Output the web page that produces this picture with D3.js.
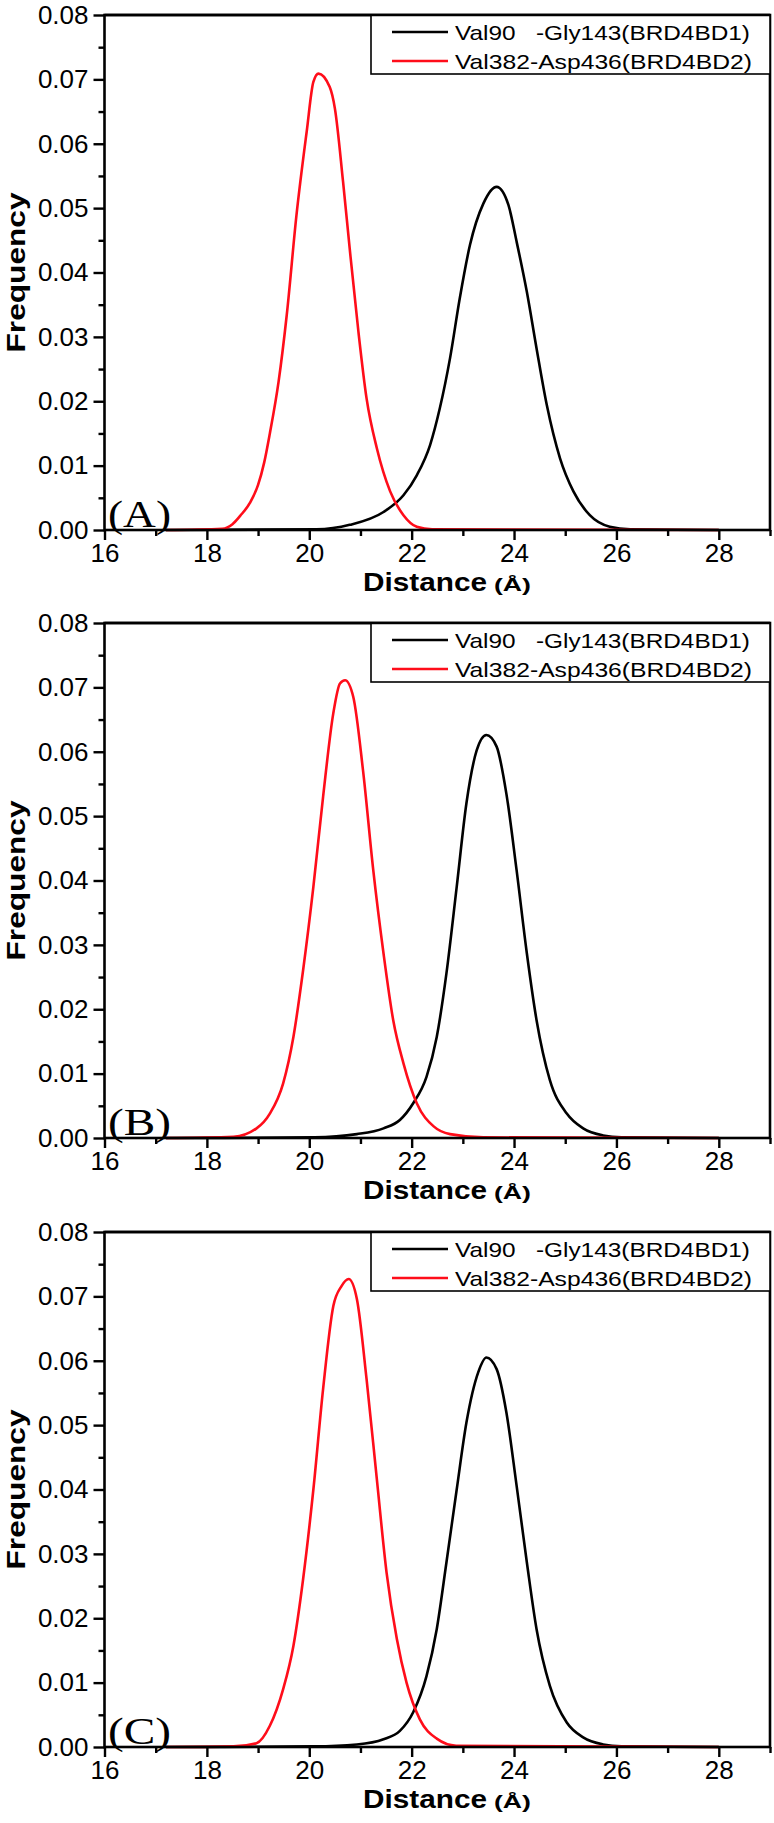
<!DOCTYPE html>
<html>
<head>
<meta charset="utf-8">
<script src="https://cdn.jsdelivr.net/npm/d3@7"></script>
<style>
  body { margin: 0; background: #fff; }
  svg { display: block; }
</style>
</head>
<body>
<div id="chart"></div>
<script>
// distance (Å) and frequency
const distA_bd1 = [17.2, 20.14, 20.79, 21.45, 21.84, 22.10, 22.36, 22.55, 22.75, 22.94, 23.14, 23.40, 23.66, 23.89, 24.05, 24.25, 24.44, 24.64, 24.90, 25.16, 25.48, 25.87, 26.27, 28];
const freqA_bd1 = [0, 0.0001, 0.0008, 0.0028, 0.0054, 0.0085, 0.0132, 0.0189, 0.0267, 0.036, 0.0443, 0.0507, 0.0533, 0.0505, 0.0448, 0.037, 0.0282, 0.0194, 0.0111, 0.006, 0.0023, 0.0005, 0.0001, 0];
const distA_bd2 = [17.2, 18.3, 18.5, 18.65, 18.84, 19.0, 19.12, 19.23, 19.40, 19.56, 19.75, 19.95, 20.08, 20.18, 20.40, 20.50, 20.66, 20.79, 20.96, 21.12, 21.32, 21.58, 21.84, 22.10, 22.4, 28];
const freqA_bd2 = [0, 0.0002, 0.0009, 0.0022, 0.0042, 0.007, 0.0105, 0.015, 0.023, 0.0334, 0.0489, 0.0619, 0.0696, 0.0709, 0.0688, 0.0655, 0.0541, 0.0437, 0.0308, 0.0204, 0.0127, 0.0060, 0.0023, 0.0005, 0.0001, 0];

const distB_bd1 = [17.2, 20.1, 20.93, 21.45, 21.77, 22.03, 22.29, 22.49, 22.68, 22.88, 23.07, 23.27, 23.46, 23.66, 23.85, 24.05, 24.25, 24.44, 24.70, 25.03, 25.35, 25.74, 26.1, 28];
const freqB_bd1 = [0, 0.0001, 0.0006, 0.0015, 0.0028, 0.0054, 0.0095, 0.0157, 0.0256, 0.039, 0.052, 0.0602, 0.0626, 0.0608, 0.0535, 0.0416, 0.0287, 0.0183, 0.009, 0.0038, 0.0015, 0.0004, 0.0001, 0];
const distB_bd2 = [17.2, 18.52, 18.97, 19.23, 19.49, 19.69, 19.88, 20.08, 20.27, 20.47, 20.60, 20.70, 20.86, 21.05, 21.25, 21.45, 21.64, 21.84, 22.10, 22.43, 22.75, 23.4, 28];
const freqB_bd2 = [0, 0.0002, 0.0015, 0.0038, 0.0085, 0.0157, 0.0261, 0.039, 0.053, 0.066, 0.0706, 0.0711, 0.0685, 0.0571, 0.0416, 0.0287, 0.0183, 0.0116, 0.0054, 0.0018, 0.0006, 0.0001, 0];

const distC_bd1 = [17.2, 20.1, 20.93, 21.45, 21.77, 22.03, 22.29, 22.49, 22.68, 22.88, 23.07, 23.30, 23.46, 23.66, 23.85, 24.05, 24.25, 24.44, 24.70, 25.03, 25.35, 25.74, 26.1, 28];
const freqC_bd1 = [0, 0.0001, 0.0004, 0.0012, 0.0025, 0.0054, 0.011, 0.0183, 0.0287, 0.040, 0.0504, 0.0582, 0.0605, 0.0587, 0.052, 0.0406, 0.0287, 0.0183, 0.0095, 0.0038, 0.0015, 0.0004, 0.0001, 0];
const distC_bd2 = [17.2, 18.52, 18.97, 19.23, 19.49, 19.69, 19.88, 20.08, 20.27, 20.47, 20.63, 20.77, 20.93, 21.12, 21.32, 21.51, 21.71, 21.90, 22.16, 22.49, 22.87, 28];
const freqC_bd2 = [0, 0.0001, 0.0006, 0.0033, 0.009, 0.0157, 0.0261, 0.040, 0.0556, 0.0685, 0.0716, 0.0727, 0.0696, 0.0571, 0.0416, 0.0271, 0.0168, 0.010, 0.0043, 0.0013, 0.0002, 0];

const seriesNames = ["Val90   -Gly143(BRD4BD1)", "Val382-Asp436(BRD4BD2)"];
const seriesColors = ["#000000", "#ff0d1a"];
const panelLabels = ["(A)", "(B)", "(C)"];
const xMajorTicks = [16, 18, 20, 22, 24, 26, 28];
const xMinorTicks = [17, 19, 21, 23, 25, 27, 29];
const yMajorTicks = [0, 0.01, 0.02, 0.03, 0.04, 0.05, 0.06, 0.07, 0.08];
const yMinorTicks = [0.005, 0.015, 0.025, 0.035, 0.045, 0.055, 0.065, 0.075];

const panels = [
    {label: panelLabels[0], top: 15,   series: [[distA_bd1, freqA_bd1], [distA_bd2, freqA_bd2]]},
    {label: panelLabels[1], top: 623,  series: [[distB_bd1, freqB_bd1], [distB_bd2, freqB_bd2]]},
    {label: panelLabels[2], top: 1232, series: [[distC_bd1, freqC_bd1], [distC_bd2, freqC_bd2]]}
];

const W = 774, H = 1823;
const left = 104.5, right = 770, plotH = 515;
const sans = "'Liberation Sans', Arial, sans-serif";

const svg = d3.select("#chart").append("svg")
    .attr("width", W)
    .attr("height", H);

svg.append("rect").attr("width", W).attr("height", H).attr("fill", "#fff");

const x = d3.scaleLinear().domain([16, 29]).range([left, right]);

panels.forEach(function(p) {
    const bottom = p.top + plotH;
    const y = d3.scaleLinear().domain([0, 0.08]).range([bottom, p.top]);
    const g = svg.append("g");

    // curves: black first, red on top
    const line = d3.line()
        .x(function(d) { return x(d[0]); })
        .y(function(d) { return y(d[1]); })
        .curve(d3.curveMonotoneX);

    p.series.forEach(function(s, i) {
        g.append("path")
            .datum(d3.zip(s[0], s[1]))
            .attr("d", line)
            .attr("fill", "none")
            .attr("stroke", seriesColors[i])
            .attr("stroke-width", 2.6)
            .attr("stroke-linejoin", "round");
    });

    // axes
    g.append("g").attr("transform", "translate(" + left + ",0)")
        .call(d3.axisLeft(y).tickValues(yMajorTicks).tickFormat(d3.format(".2f")).tickSize(11).tickPadding(5));
    g.append("g").attr("transform", "translate(" + left + ",0)")
        .call(d3.axisLeft(y).tickValues(yMinorTicks).tickFormat("").tickSize(6));

    g.append("g").attr("transform", "translate(0," + bottom + ")")
        .call(d3.axisBottom(x).tickValues(xMajorTicks).tickFormat(d3.format("d")).tickSize(10).tickPadding(4));
    g.append("g").attr("transform", "translate(0," + bottom + ")")
        .call(d3.axisBottom(x).tickValues(xMinorTicks).tickFormat("").tickSize(6));

    g.selectAll(".domain").remove();
    g.selectAll(".tick line").attr("stroke", "#000").attr("stroke-width", 2.4);
    g.selectAll(".tick text")
        .attr("fill", "#000")
        .style("font-family", sans)
        .style("font-size", "26px");

    // frame
    g.append("rect")
        .attr("x", left).attr("y", p.top)
        .attr("width", right - left).attr("height", plotH)
        .attr("fill", "none")
        .attr("stroke", "#000")
        .attr("stroke-width", 2.6);

    // legend
    const lg = g.append("g");
    lg.append("rect")
        .attr("x", 371).attr("y", p.top)
        .attr("width", right - 371).attr("height", 59)
        .attr("fill", "#fff")
        .attr("stroke", "#000")
        .attr("stroke-width", 1.6);
    seriesNames.forEach(function(name, i) {
        const cy = p.top + 17 + i * 29;
        lg.append("line")
            .attr("x1", 392).attr("x2", 448)
            .attr("y1", cy).attr("y2", cy)
            .attr("stroke", seriesColors[i])
            .attr("stroke-width", 2.6);
        lg.append("text")
            .attr("x", 455).attr("y", cy + 7.5)
            .attr("textLength", i == 0 ? 295 : 297)
            .attr("lengthAdjust", "spacingAndGlyphs")
            .style("white-space", "pre")
            .style("font-family", sans)
            .style("font-size", "21px")
            .text(name);
    });
    // frame top edge over the legend box
    g.append("line").attr("x1", left).attr("x2", right).attr("y1", p.top).attr("y2", p.top)
        .attr("stroke", "#000").attr("stroke-width", 2.6);

    // panel label
    g.append("text")
        .attr("x", 108).attr("y", bottom - 3)
        .attr("textLength", 63)
        .attr("lengthAdjust", "spacingAndGlyphs")
        .style("font-family", "'Liberation Serif', 'Times New Roman', serif")
        .style("font-size", "37px")
        .text(p.label);

    // axis titles
    g.append("text")
        .attr("transform", "translate(25," + (p.top + plotH / 2) + ") rotate(-90)")
        .attr("text-anchor", "middle")
        .attr("textLength", 160)
        .attr("lengthAdjust", "spacingAndGlyphs")
        .style("font-family", sans)
        .style("font-weight", "bold")
        .style("font-size", "25px")
        .text("Frequency");

    g.append("text")
        .attr("x", 363).attr("y", bottom + 61)
        .attr("textLength", 124)
        .attr("lengthAdjust", "spacingAndGlyphs")
        .style("font-family", sans)
        .style("font-weight", "bold")
        .style("font-size", "25px")
        .text("Distance");
    g.append("text")
        .attr("x", 494).attr("y", bottom + 61)
        .attr("textLength", 37)
        .attr("lengthAdjust", "spacingAndGlyphs")
        .style("font-family", sans)
        .style("font-weight", "bold")
        .style("font-size", "18px")
        .text("(Å)");
});
</script>
</body>
</html>
